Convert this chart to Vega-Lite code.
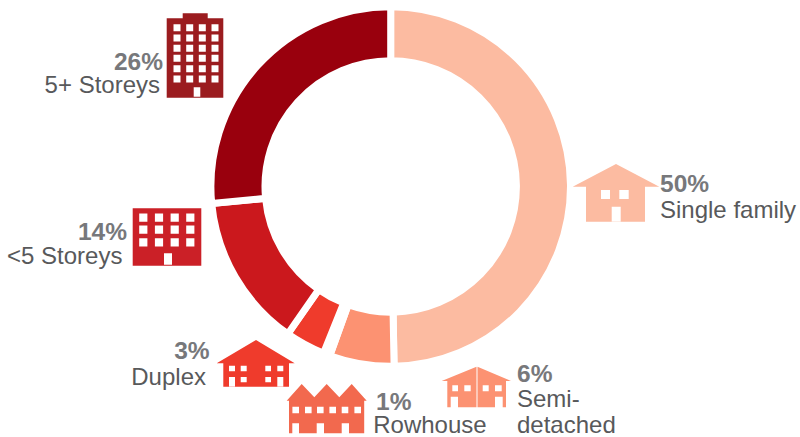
{"$schema":"https://vega.github.io/schema/vega-lite/v6.json","width":800,"height":437,"autosize":"none","padding":0,"background":"white","config":{"view":{"stroke":null}},
"datasets":{"slices":[
{"category":"Single family","share":49.7,"rank":1,"anchorX":154,"anchorY":48.25},
{"category":"Semi-detached","share":5.8,"rank":2,"anchorX":119.25,"anchorY":96.75},
{"category":"Rowhouse","share":0.6,"rank":3,"anchorX":81.675,"anchorY":102.25},
{"category":"Duplex","share":3.6,"rank":4,"anchorX":64,"anchorY":90.75},
{"category":"<5 Storeys","share":13.8,"rank":5,"anchorX":41.75,"anchorY":59.25},
{"category":"5+ Storeys","share":26.5,"rank":6,"anchorX":48.75,"anchorY":13.875}],
"labels":[
{"text":"26%","role":"share","side":"right","anchorX":40.75,"anchorY":17.5},
{"text":"5+ Storeys","role":"name","side":"right","anchorX":40,"anchorY":23.25},
{"text":"14%","role":"share","side":"right","anchorX":31.75,"anchorY":60},
{"text":"<5 Storeys","role":"name","side":"right","anchorX":30.6,"anchorY":66},
{"text":"3%","role":"share","side":"right","anchorX":52.4,"anchorY":89.75},
{"text":"Duplex","role":"name","side":"right","anchorX":51.5,"anchorY":96.25},
{"text":"1%","role":"share","side":"left","anchorX":94,"anchorY":102.5},
{"text":"Rowhouse","role":"name","side":"left","anchorX":93.3,"anchorY":108.25},
{"text":"6%","role":"share","side":"left","anchorX":129.25,"anchorY":95.5},
{"text":"Semi-","role":"name","side":"left","anchorX":129.25,"anchorY":101.75},
{"text":"detached","role":"name","side":"left","anchorX":129.25,"anchorY":108.25},
{"text":"50%","role":"share","side":"left","anchorX":165,"anchorY":48},
{"text":"Single family","role":"name","side":"left","anchorX":165,"anchorY":54.5}]},
"layer":[
{"data":{"name":"slices"},"mark":{"type":"arc","outerRadius":179.8,"innerRadius":125.7,"stroke":"white","strokeWidth":7},
"encoding":{"x":{"value":390.7},"y":{"value":186.5},"theta":{"field":"share","type":"quantitative","stack":true},"order":{"field":"rank","type":"ordinal"},
"color":{"field":"category","type":"nominal","legend":null,"scale":{"domain":["Single family","Semi-detached","Rowhouse","Duplex","<5 Storeys","5+ Storeys"],"range":["#FCBBA1","#FC9272","#FB6A4A","#EF3B2C","#CB181D","#99000D"]}}}},
{"data":{"name":"slices"},"mark":{"type":"point","filled":true,"opacity":1,"strokeWidth":0},
"encoding":{"x":{"field":"anchorX","type":"quantitative","axis":null,"scale":{"domain":[0,200],"nice":false,"zero":false}},"y":{"field":"anchorY","type":"quantitative","axis":null,"scale":{"domain":[109.25,0],"nice":false,"zero":false}},"size":{"value":4},
"fill":{"field":"category","type":"nominal","legend":null,"scale":{"domain":["Single family","Semi-detached","Rowhouse","Duplex","<5 Storeys","5+ Storeys"],"range":["#FCBBA1","#FC9272","#F2694E","#EF3B2C","#CB2027","#9B1C1F"]}},
"shape":{"field":"category","type":"nominal","legend":null,"scale":{"domain":["Single family","Semi-detached","Rowhouse","Duplex","<5 Storeys","5+ Storeys"],"range":[
"M0 -29L43.3 -6.3H29V28.7H-30V-6.3H-43.3ZM-15 -3V6H-6V-3ZM3.3 -3V6H12.7V-3ZM-4.3 13.7V28.5H4.7V13.7Z",
"M-0.5 -20.3V20.3H-29.7V-6H-35.3ZM0.5 -20.3L34 -6H29V20.3H0.5ZM-24.7 -1.7V4.3H-19V-1.7ZM-12.7 -1.7V4.3H-6.3V-1.7ZM5.7 -1.7V4.3H11.7V-1.7ZM18 -1.7V4.3H24.7V-1.7ZM-26.3 9.7V20.2H-19V9.7ZM18 9.7V20.2H25.7V9.7Z",
"M-25 -25L-12.4 -11.7L0 -25L12.6 -11.7L25 -25L40 -8.3H37.5V24.3H-37.7V-8.3H-40ZM-34.3 -2.3V4.3H-27.7V-2.3ZM-21.7 -2.3V4.3H-15.1V-2.3ZM-9.7 -2.3V4.3H-3.1V-2.3ZM2.7 -2.3V4.3H9.3V-2.3ZM15 -2.3V4.3H21.6V-2.3ZM27.7 -2.3V4.3H34.3V-2.3ZM-34.4 14.3V24.2H-27.7V14.3ZM-10 14.3V24.2H-2.7V14.3ZM15 14.3V24.2H22.3V14.3Z",
"M0 -23L38.7 0.3H33V23.7H-32.7V0.3H-39.3ZM-27 2.7V8.3H-21V2.7ZM-15.3 2.7V8.3H-9.3V2.7ZM9.3 2.7V8.3H15V2.7ZM21.3 2.7V8.3H27.3V2.7ZM-27 14V23.5H-21V14ZM-15.3 14V19.3H-9.3V14ZM9.3 14V19.3H15V14ZM21.3 14V23.5H27.3V14Z",
"M-34.3 -28.85H34.3V28.85H-34.3ZM-27.8 -23.4V-15.2H-19.6V-23.4ZM-12.1 -23.4V-15.2H-3.9V-23.4ZM3.6 -23.4V-15.2H11.8V-23.4ZM19.2 -23.4V-15.2H27.4V-23.4ZM-27.8 -11.4V-3.2H-19.6V-11.4ZM-12.1 -11.4V-3.2H-3.9V-11.4ZM3.6 -11.4V-3.2H11.8V-11.4ZM19.2 -11.4V-3.2H27.4V-11.4ZM-27.8 1.2V9.4H-19.6V1.2ZM-12.1 1.2V9.4H-3.9V1.2ZM3.6 1.2V9.4H11.8V1.2ZM19.2 1.2V9.4H27.4V1.2ZM-3 16.3V27.7H5V16.3Z",
"M-28.3 -37.2H-12.3V-42.2H12.7V-37.2H28.3V42.2H-28.3ZM-21.5 -31.3V-24.3H-14.5V-31.3ZM-8.8 -31.3V-24.3H-1.8V-31.3ZM3.8 -31.3V-24.3H10.8V-31.3ZM16.5 -31.3V-24.3H23.5V-31.3ZM-21.5 -21V-14H-14.5V-21ZM-8.8 -21V-14H-1.8V-21ZM3.8 -21V-14H10.8V-21ZM16.5 -21V-14H23.5V-21ZM-21.5 -10.7V-3.7H-14.5V-10.7ZM-8.8 -10.7V-3.7H-1.8V-10.7ZM3.8 -10.7V-3.7H10.8V-10.7ZM16.5 -10.7V-3.7H23.5V-10.7ZM-21.5 -0.7V6.3H-14.5V-0.7ZM-8.8 -0.7V6.3H-1.8V-0.7ZM3.8 -0.7V6.3H10.8V-0.7ZM16.5 -0.7V6.3H23.5V-0.7ZM-21.5 9.7V16.7H-14.5V9.7ZM-8.8 9.7V16.7H-1.8V9.7ZM3.8 9.7V16.7H10.8V9.7ZM16.5 9.7V16.7H23.5V9.7ZM-21.5 20V27H-14.5V20ZM-8.8 20V27H-1.8V20ZM3.8 20V27H10.8V20ZM16.5 20V27H23.5V20ZM-1.3 31.8V41.2H5.3V31.8Z"
]}}}},
{"data":{"name":"labels"},"transform":[{"filter":"datum.role==='share' && datum.side==='right'"}],"mark":{"type":"text","align":"right","baseline":"alphabetic","font":"Liberation Sans","fontWeight":"bold","fontSize":24.5,"fill":"#77787B"},
"encoding":{"x":{"field":"anchorX","type":"quantitative"},"y":{"field":"anchorY","type":"quantitative"},"text":{"field":"text"}}},
{"data":{"name":"labels"},"transform":[{"filter":"datum.role==='share' && datum.side==='left'"}],"mark":{"type":"text","align":"left","baseline":"alphabetic","font":"Liberation Sans","fontWeight":"bold","fontSize":24.5,"fill":"#77787B"},
"encoding":{"x":{"field":"anchorX","type":"quantitative"},"y":{"field":"anchorY","type":"quantitative"},"text":{"field":"text"}}},
{"data":{"name":"labels"},"transform":[{"filter":"datum.role==='name' && datum.side==='right'"}],"mark":{"type":"text","align":"right","baseline":"alphabetic","font":"Liberation Sans","fontSize":24,"fill":"#58595B"},
"encoding":{"x":{"field":"anchorX","type":"quantitative"},"y":{"field":"anchorY","type":"quantitative"},"text":{"field":"text"}}},
{"data":{"name":"labels"},"transform":[{"filter":"datum.role==='name' && datum.side==='left'"}],"mark":{"type":"text","align":"left","baseline":"alphabetic","font":"Liberation Sans","fontSize":24,"fill":"#58595B"},
"encoding":{"x":{"field":"anchorX","type":"quantitative"},"y":{"field":"anchorY","type":"quantitative"},"text":{"field":"text"}}}
],
"resolve":{"scale":{"color":"independent","fill":"independent"}}}
